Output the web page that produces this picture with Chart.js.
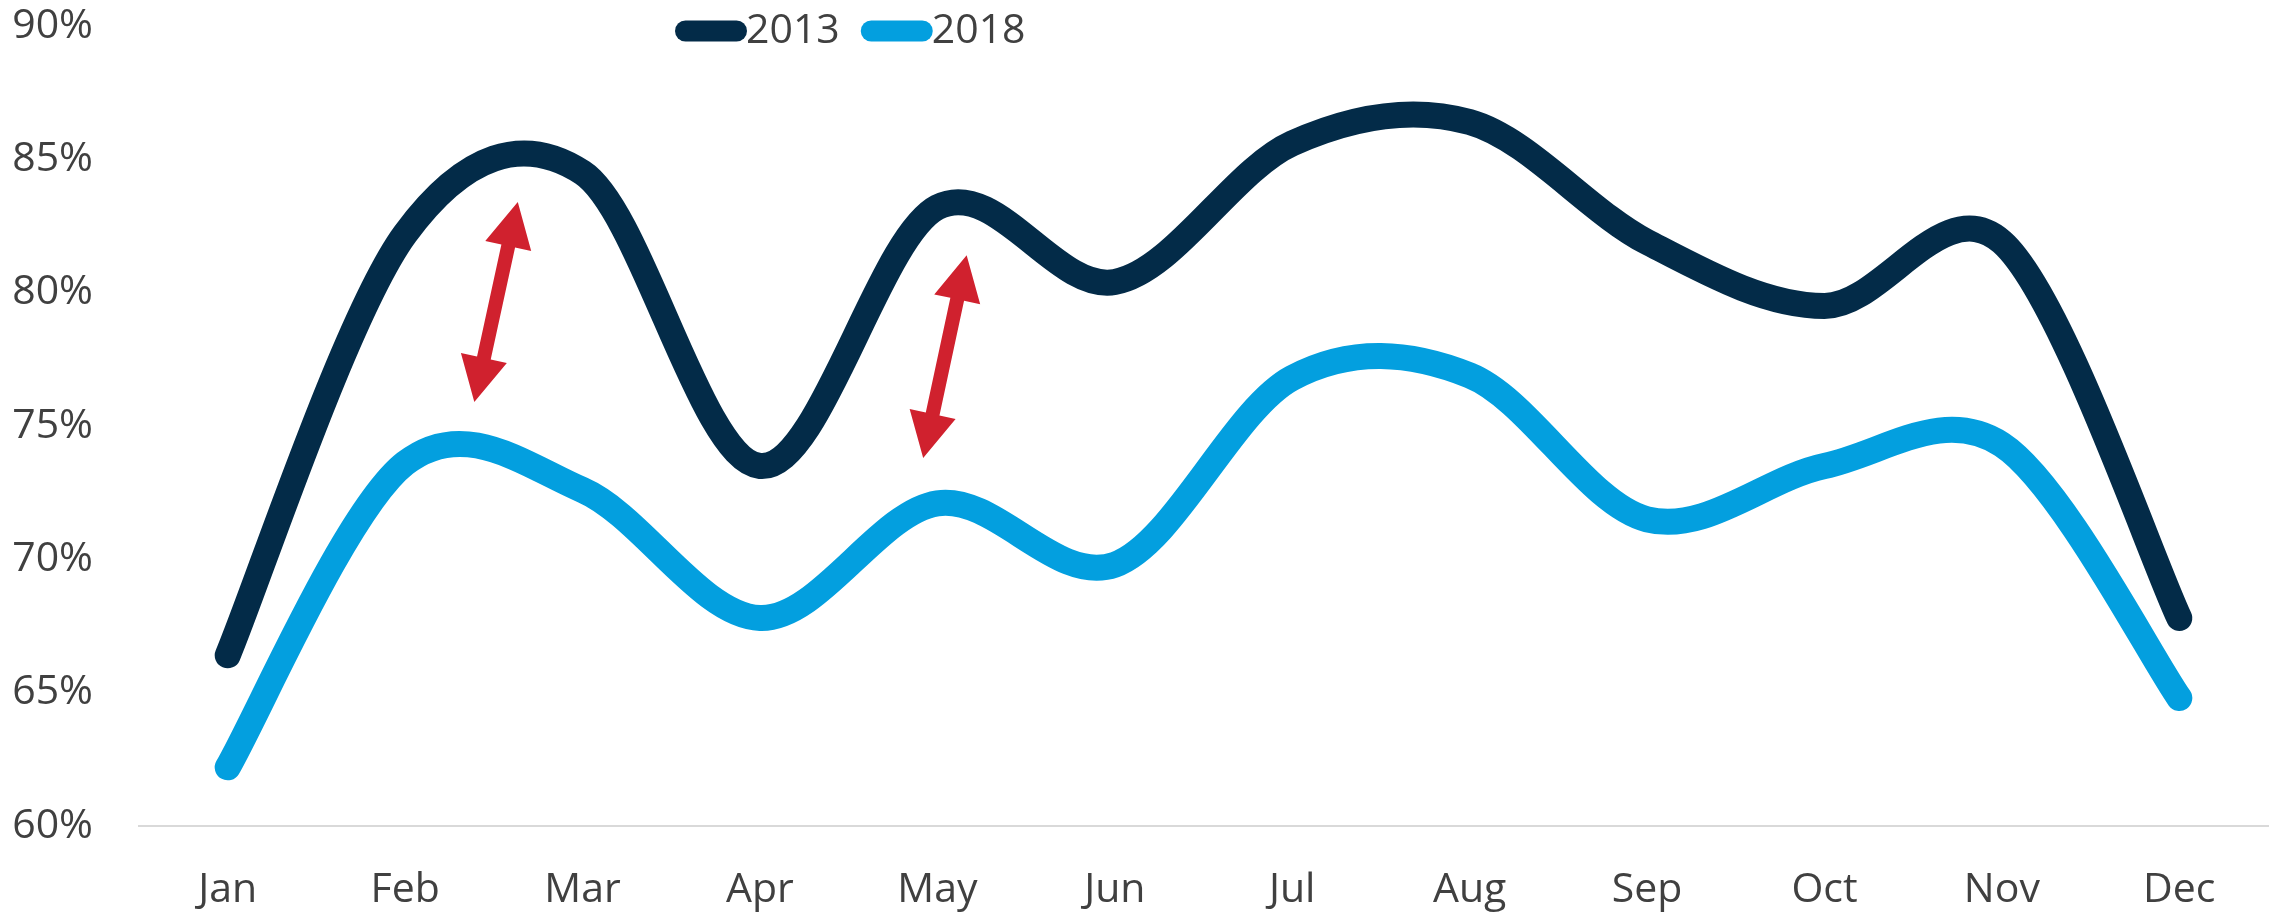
<!DOCTYPE html>
<html>
<head>
<meta charset="utf-8">
<script src="https://cdn.jsdelivr.net/npm/chart.js@4"></script>
<style>
  html, body { margin: 0; padding: 0; background: #fff; }
  #wrap { width: 2272px; height: 913px; }
</style>
</head>
<body>
<div id="wrap"><canvas id="rateChart"></canvas></div>
<script>
const months = ["Jan", "Feb", "Mar", "Apr", "May", "Jun", "Jul", "Aug", "Sep", "Oct", "Nov", "Dec"];
const rate2013 = [66.4, 82.2, 84.5, 73.5, 83.2, 80.4, 85.6, 86.4, 81.9, 79.5, 81.9, 67.8];
const rate2018 = [62.2, 73.6, 72.6, 67.8, 72.1, 69.8, 76.8, 76.9, 71.5, 73.5, 74.3, 64.8];
const yTicks = [60, 65, 70, 75, 80, 85, 90];

// red gap arrows, ends given as [month index, percent]
const gapArrows = [
  { from: [1.39, 75.9], to: [1.635, 83.4] },
  { from: [3.92, 73.8], to: [4.165, 81.4] }
];

const FONT = { family: "'Open Sans', sans-serif", size: 41 };
const TEXT = "#404040";

// Excel-style smoothing: control points at 1/6 of the neighbour span
const smoothLines = {
  id: "smoothLines",
  beforeDatasetDraw(chart, args) {
    const meta = args.meta;
    const pts = meta.data;
    pts.forEach((p, i) => {
      const prev = pts[i - 1] || p, next = pts[i + 1] || p;
      const dx = (next.x - prev.x) / 6, dy = (next.y - prev.y) / 6;
      p.cp1x = p.x - dx; p.cp1y = p.y - dy;
      p.cp2x = p.x + dx; p.cp2y = p.y + dy;
    });
    meta.dataset._pointsUpdated = true;
  }
};

function drawDoubleArrow(ctx, x0, y0, x1, y1) {
  const len = Math.hypot(x1 - x0, y1 - y0);
  const ux = (x1 - x0) / len, uy = (y1 - y0) / len;
  const nx = -uy, ny = ux;
  const head = 45, hw = 23.5, sw = 7;
  const tb = [x1 - ux * head, y1 - uy * head];
  const bb = [x0 + ux * head, y0 + uy * head];
  ctx.beginPath();
  ctx.moveTo(x1, y1);
  ctx.lineTo(tb[0] + nx * hw, tb[1] + ny * hw);
  ctx.lineTo(tb[0] + nx * sw, tb[1] + ny * sw);
  ctx.lineTo(bb[0] + nx * sw, bb[1] + ny * sw);
  ctx.lineTo(bb[0] + nx * hw, bb[1] + ny * hw);
  ctx.lineTo(x0, y0);
  ctx.lineTo(bb[0] - nx * hw, bb[1] - ny * hw);
  ctx.lineTo(bb[0] - nx * sw, bb[1] - ny * sw);
  ctx.lineTo(tb[0] - nx * sw, tb[1] - ny * sw);
  ctx.lineTo(tb[0] - nx * hw, tb[1] - ny * hw);
  ctx.closePath();
  ctx.fill();
}

const extras = {
  id: "extras",
  afterDatasetsDraw(chart) {
    const { ctx, scales: { x, y } } = chart;
    ctx.save();
    ctx.fillStyle = "#d0212e";
    gapArrows.forEach(a => {
      drawDoubleArrow(ctx,
        x.getPixelForValue(a.from[0]), y.getPixelForValue(a.from[1]),
        x.getPixelForValue(a.to[0]), y.getPixelForValue(a.to[1]));
    });
    ctx.restore();
  },
  afterDraw(chart) {
    // legend: rounded line swatch followed by the series name
    const ctx = chart.ctx;
    ctx.save();
    ctx.font = FONT.size + "px " + FONT.family;
    ctx.textBaseline = "middle";
    ctx.fillStyle = TEXT;
    let lx = 675;
    const ly = 31;
    chart.data.datasets.forEach(ds => {
      ctx.strokeStyle = ds.borderColor;
      ctx.lineWidth = 21;
      ctx.lineCap = "round";
      ctx.beginPath();
      ctx.moveTo(lx + 10.5, ly);
      ctx.lineTo(lx + 61.5, ly);
      ctx.stroke();
      ctx.fillText(ds.label, lx + 71, ly);
      lx += 71 + ctx.measureText(ds.label).width + 21;
    });
    ctx.restore();
  }
};

new Chart(document.getElementById("rateChart"), {
  type: "line",
  data: {
    labels: months,
    datasets: [
      { label: "2013", data: rate2013, borderColor: "#032b48" },
      { label: "2018", data: rate2018, borderColor: "#039fdf" }
    ]
  },
  options: {
    responsive: true,
    maintainAspectRatio: false,
    animation: false,
    layout: { padding: { left: 0, right: 4, top: 26, bottom: 0 } },
    elements: {
      line: { borderWidth: 26, tension: 0.4, borderCapStyle: "round", borderJoinStyle: "round", fill: false },
      point: { radius: 0, hoverRadius: 0 }
    },
    plugins: { legend: { display: false }, tooltip: { enabled: false } },
    scales: {
      x: {
        offset: true,
        grid: { display: false, drawTicks: false, tickLength: 0 },
        border: { display: true, color: "#d9d9d9", width: 2 },
        ticks: { color: TEXT, font: FONT, padding: 40, maxRotation: 0 },
        afterFit: s => { s.height = 87; s.paddingLeft = 0; s.paddingRight = 0; }
      },
      y: {
        min: 60, max: 90,
        afterBuildTicks: s => { s.ticks = yTicks.map(v => ({ value: v })); },
        grid: { display: false, drawTicks: false, tickLength: 0 },
        border: { display: false },
        ticks: { color: TEXT, font: FONT, padding: 46, callback: v => v + "%" },
        afterFit: s => { s.width = 139; s.paddingTop = 0; s.paddingBottom = 0; }
      }
    }
  },
  plugins: [smoothLines, extras]
});
</script>
</body>
</html>
